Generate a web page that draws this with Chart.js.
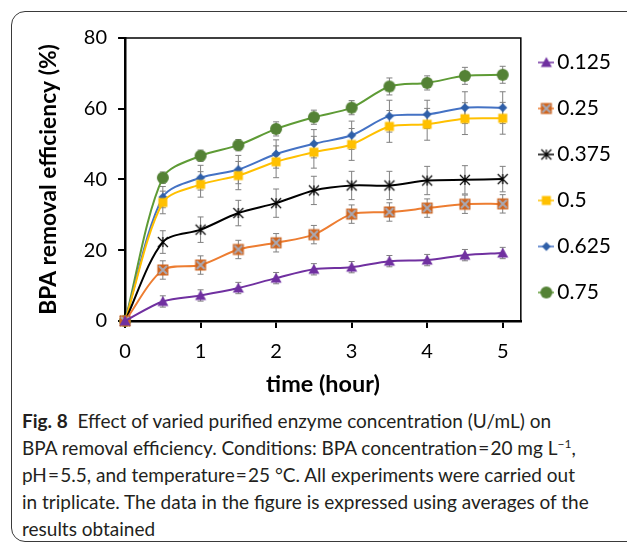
<!DOCTYPE html>
<html>
<head>
<meta charset="utf-8">
<script src="https://cdn.jsdelivr.net/npm/chart.js@4.4.0/dist/chart.umd.min.js"></script>
<style>
body { margin: 0; width: 627px; height: 544px; overflow: hidden; background: #fff; position: relative; }
#frame { position: absolute; left: 11px; top: 11px; width: 700px; height: 529px; border: 1px solid #3a3a3a; border-radius: 14px; }
#wrap { position: absolute; left: 0; top: 0; width: 627px; height: 400px; }
#caption { position: absolute; left: 22px; top: 407px; font-family: Lato, sans-serif; font-size: 19px; line-height: 27px; color: #231f20; white-space: nowrap; }
#caption b { font-weight: 700; }
</style>
</head>
<body>
<div id="frame"></div>
<div id="wrap"><canvas id="chartCanvas"></canvas></div>
<div id="caption">
<b>Fig. 8</b>&nbsp; Effect of varied purified enzyme concentration (U/mL) on<br>
BPA removal efficiency. Conditions: BPA concentration&#8202;=&#8202;20 mg L<sup style="font-size:12px;line-height:0">&minus;1</sup>,<br>
pH&#8202;=&#8202;5.5, and temperature&#8202;=&#8202;25 &deg;C. All experiments were carried out<br>
in triplicate. The data in the figure is expressed using averages of the<br>
results obtained
</div>
<script>
//data
const times = [0, 0.5, 1, 1.5, 2, 2.5, 3, 3.5, 4, 4.5, 5];
const xTicks = [0, 1, 2, 3, 4, 5];
const yTicks = [0, 20, 40, 60, 80];
const concLabels = ["0.125", "0.25", "0.375", "0.5", "0.625", "0.75"];

const eff0125 = [0, 5.5, 7.2, 9.3, 12.1, 14.6, 15.2, 16.9, 17.2, 18.6, 19.2];
const eff025 = [0, 14.4, 15.8, 20.2, 22.1, 24.4, 30.2, 30.8, 31.9, 33.0, 33.1];
const eff0375 = [0, 22.3, 25.8, 30.5, 33.3, 36.9, 38.3, 38.3, 39.7, 39.9, 40.1];
const eff05 = [0, 33.5, 38.6, 41.1, 45.0, 47.7, 49.9, 55.0, 55.6, 57.2, 57.3];
const eff0625 = [0, 35.0, 40.5, 42.8, 47.2, 50.1, 52.5, 57.9, 58.4, 60.3, 60.3];
const eff075 = [0, 40.5, 46.7, 49.7, 54.3, 57.6, 60.3, 66.3, 67.3, 69.3, 69.6];

const err0125 = [0, 1.6, 1.6, 1.6, 1.6, 1.6, 1.6, 1.6, 1.6, 1.6, 1.6];
const err025 = [0, 2.6, 2.6, 2.6, 2.6, 2.6, 2.6, 2.6, 2.6, 2.6, 2.6];
const err0375 = [0, 3.2, 3.6, 3.6, 4, 4, 4, 4, 4, 4, 3.6];
const err05 = [0, 3.2, 3.6, 4, 4.5, 4.5, 4.5, 4.5, 4.5, 4.5, 4.5];
const err0625 = [0, 3, 3.5, 4, 4, 4, 4, 4.5, 4, 4.5, 4.5];
const err075 = [0, 1.6, 1.6, 1.6, 2, 2, 2, 2.4, 2, 2.4, 2.4];

const allVals = [eff0125, eff025, eff0375, eff05, eff0625, eff075];
const allErrs = [err0125, err025, err0375, err05, err0625, err075];

//styles
const lineColors = ["#7030a0", "#ed7d31", "#000000", "#ffc000", "#4472c4", "#5e9b35"];
const markerKinds = ["triangle", "xsquare", "star", "square", "diamond", "circle"];

//marker images
function drawMarker(ctx, kind, cx, cy) {
  ctx.lineWidth = 1;
  if (kind == "triangle") {
    ctx.fillStyle = "#7030a0";
    ctx.beginPath();
    ctx.moveTo(cx, cy - 5.5);
    ctx.lineTo(cx + 5.5, cy + 4.5);
    ctx.lineTo(cx - 5.5, cy + 4.5);
    ctx.closePath();
    ctx.fill();
  } else if (kind == "xsquare") {
    ctx.fillStyle = "#d0651f";
    ctx.fillRect(cx - 5.5, cy - 5.5, 11, 11);
    ctx.strokeStyle = "#a9a9b4";
    ctx.lineWidth = 2;
    ctx.beginPath();
    ctx.moveTo(cx - 4, cy - 4); ctx.lineTo(cx + 4, cy + 4);
    ctx.moveTo(cx + 4, cy - 4); ctx.lineTo(cx - 4, cy + 4);
    ctx.stroke();
  } else if (kind == "star") {
    ctx.strokeStyle = "#000";
    ctx.lineWidth = 1.2;
    ctx.beginPath();
    ctx.moveTo(cx - 5, cy - 5); ctx.lineTo(cx + 5, cy + 5);
    ctx.moveTo(cx + 5, cy - 5); ctx.lineTo(cx - 5, cy + 5);
    ctx.moveTo(cx, cy - 5); ctx.lineTo(cx, cy + 5);
    ctx.stroke();
  } else if (kind == "square") {
    ctx.fillStyle = "#ffc000";
    ctx.fillRect(cx - 4.5, cy - 4.5, 9, 9);
  } else if (kind == "diamond") {
    ctx.fillStyle = "#2f5fa8";
    ctx.beginPath();
    ctx.moveTo(cx, cy - 4.5);
    ctx.lineTo(cx + 4.5, cy);
    ctx.lineTo(cx, cy + 4.5);
    ctx.lineTo(cx - 4.5, cy);
    ctx.closePath();
    ctx.fill();
  } else {
    ctx.fillStyle = "#548235";
    ctx.beginPath();
    ctx.arc(cx, cy, 6, 0, Math.PI * 2);
    ctx.fill();
  }
}
function makeMarker(kind, lineColor) {
  const c = document.createElement("canvas");
  c.width = lineColor ? 16 : 14;
  c.height = 14;
  const ctx = c.getContext("2d");
  if (lineColor) {
    ctx.strokeStyle = lineColor;
    ctx.lineWidth = 1.5;
    ctx.beginPath();
    ctx.moveTo(0, 7);
    ctx.lineTo(16, 7);
    ctx.stroke();
  }
  drawMarker(ctx, kind, c.width / 2, 7);
  return c;
}
const pointImgs = markerKinds.map((k) => makeMarker(k));
const legendImgs = markerKinds.map((k, i) => makeMarker(k, lineColors[i]));

//error bars + top/right frame
const errorBars = {
  id: "errorBars",
  beforeDatasetsDraw(chart) {
    const { ctx, scales: { x, y } } = chart;
    ctx.save();
    ctx.strokeStyle = "#808080";
    ctx.lineWidth = 1;
    chart.data.datasets.forEach((ds) => {
      ds.data.forEach((p, i) => {
        const e = ds.errors[i];
        if (!e) return;
        const px = x.getPixelForValue(p.x);
        const top = y.getPixelForValue(p.y + e);
        const bot = y.getPixelForValue(p.y - e);
        ctx.beginPath();
        ctx.moveTo(px, top); ctx.lineTo(px, bot);
        ctx.moveTo(px - 3, top); ctx.lineTo(px + 3, top);
        ctx.moveTo(px - 3, bot); ctx.lineTo(px + 3, bot);
        ctx.stroke();
      });
    });
    ctx.restore();
  },
  afterDraw(chart) {
    const { ctx, chartArea: a } = chart;
    ctx.save();
    ctx.strokeStyle = "#000";
    ctx.lineWidth = 1.5;
    ctx.beginPath();
    ctx.moveTo(a.left, a.top);
    ctx.lineTo(a.right, a.top);
    ctx.lineTo(a.right, a.bottom);
    ctx.stroke();
    ctx.restore();
  },
};

Chart.defaults.font.family = "Lato";
Chart.defaults.color = "#000";

const datasets = concLabels.map((lab, i) => ({
  label: lab,
  data: times.map((t, j) => ({ x: t, y: allVals[i][j] })),
  errors: allErrs[i],
  borderColor: lineColors[i],
  borderWidth: 2,
  tension: 0.3,
  pointStyle: pointImgs[i],
  clip: false,
}));

var chart = new Chart(document.getElementById("chartCanvas"), {
  type: "line",
  data: { datasets: datasets },
  plugins: [errorBars],
  options: {
    responsive: true,
    maintainAspectRatio: false,
    animation: false,
    layout: { padding: { left: 34.5, right: 6, top: 27, bottom: 2 } },
    plugins: {
      tooltip: { enabled: false },
      //empty title only used as a spacer above the plot
      title: { display: true, text: "", fullSize: false, padding: 0, font: { size: 11, lineHeight: 1 } },
      legend: {
        position: "right",
        align: "start",
        labels: {
          usePointStyle: true,
          pointStyleWidth: 1,
          padding: 25,
          color: "#000",
          font: { size: 21 },
          generateLabels: (chart) =>
            chart.data.datasets.map((ds, i) => ({
              text: ds.label,
              pointStyle: legendImgs[i],
              datasetIndex: i,
              lineWidth: 0,
              fontColor: "#000",
            })),
        },
      },
    },
    scales: {
      x: {
        type: "linear",
        min: 0,
        max: 5.24,
        afterBuildTicks: (axis) => {
          axis.ticks = xTicks.map((v) => ({ value: v }));
        },
        ticks: { font: { size: 20 }, padding: 12, maxRotation: 0 },
        grid: { drawOnChartArea: false, tickLength: 7, color: "#000", lineWidth: 2 },
        border: { color: "#000", width: 2.5 },
        title: { display: true, text: "time (hour)", font: { size: 23.4, weight: "bold" }, padding: { top: -6, bottom: 0 } },
      },
      y: {
        min: 0,
        max: 80,
        afterBuildTicks: (axis) => {
          axis.ticks = yTicks.map((v) => ({ value: v }));
        },
        ticks: { font: { size: 20 }, padding: 11 },
        grid: { drawOnChartArea: false, tickLength: 7, color: "#000", lineWidth: 2 },
        border: { color: "#000", width: 2.5 },
        title: { display: true, text: "BPA removal efficiency (%)", font: { size: 22.8, weight: "bold" }, padding: { top: 0, bottom: 11 } },
      },
    },
  },
});
</script>
</body>
</html>
